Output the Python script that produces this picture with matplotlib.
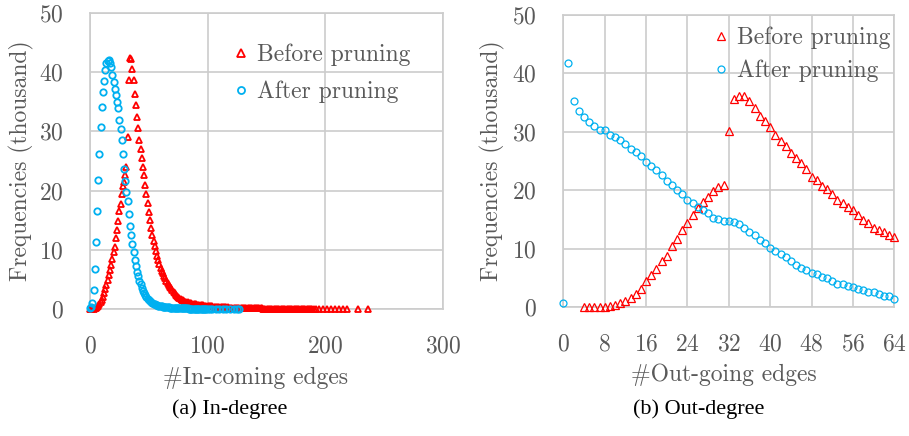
import numpy as np
import matplotlib
matplotlib.use("Agg")
import matplotlib.pyplot as plt

# ---------------- data ----------------
# (a) In-degree distribution (frequencies in thousand)
in_before_x_dense = list(range(0, 191))
in_before_y_dense = [
    0.0, 0.0, 0.0, 0.05, 0.1, 0.2, 0.35, 0.5, 0.8, 1.1,
    1.5, 2.1, 2.7, 3.3, 4.1, 4.9, 5.7, 6.6, 7.5, 8.4,
    9.6, 10.4, 12.0, 13.4, 14.8, 16.6, 17.8, 19.5, 20.7, 21.5,
    22.6, 24.0, 29.1, 38.7, 42.4, 42.2, 40.5, 38.6, 36.4, 34.5,
    32.5, 30.5, 28.5, 27.0, 25.5, 24.0, 22.6, 21.0, 19.4, 17.9,
    16.4, 15.0, 13.7, 12.5, 11.5, 10.6, 9.8, 9.0, 8.3, 7.6,
    7.0, 6.5, 6.1, 5.6, 5.2, 4.8, 4.4, 4.1, 3.8, 3.5,
    3.2, 2.9, 2.65, 2.4, 2.2, 2.0, 1.85, 1.7, 1.55, 1.45,
    1.35, 1.25, 1.18, 1.1, 1.04, 0.99, 0.94, 0.9, 0.86, 0.82,
    0.79, 0.76, 0.73, 0.7, 0.67, 0.64, 0.61, 0.58, 0.56, 0.54,
    0.52, 0.50, 0.48, 0.46, 0.44, 0.42, 0.40, 0.38, 0.37, 0.35,
    0.34, 0.32, 0.31, 0.30, 0.29, 0.28, 0.27, 0.26, 0.25, 0.24,
    0.23, 0.22, 0.21, 0.21, 0.20, 0.19, 0.18, 0.18, 0.17, 0.16,
    0.16, 0.15, 0.15, 0.14, 0.14, 0.13, 0.13, 0.12, 0.12, 0.11,
    0.11, 0.10, 0.10, 0.10, 0.09, 0.09, 0.09, 0.08, 0.08, 0.08,
    0.07, 0.07, 0.07, 0.07, 0.06, 0.06, 0.06, 0.06, 0.05, 0.05,
    0.05, 0.05, 0.05, 0.04, 0.04, 0.04, 0.04, 0.04, 0.04, 0.03,
    0.03, 0.03, 0.03, 0.03, 0.03, 0.03, 0.03, 0.02, 0.02, 0.02,
    0.02, 0.02, 0.02, 0.02, 0.02, 0.02, 0.02, 0.02, 0.01, 0.01,
    0.01,
]
in_before_x_tail = [192, 195, 198, 201, 205, 208, 212, 215, 218, 228, 236]
in_before_y_tail = [0.01, 0.01, 0.01, 0.01, 0.01, 0.01, 0.01, 0.01, 0.01, 0.01, 0.01]

in_after_x_dense = list(range(0, 101))
in_after_y_dense = [
    0.1, 0.4, 1.0, 3.2, 6.7, 11.4, 16.6, 21.8, 26.2, 30.7,
    34.2, 36.7, 38.5, 40.4, 41.5, 41.9, 42.0, 41.6, 40.8, 39.5,
    38.3, 37.2, 36.1, 35.0, 34.0, 32.0, 30.4, 28.6, 26.1, 23.6,
    21.7, 19.7, 18.2, 16.1, 14.1, 12.5, 11.0, 9.6, 8.3, 7.2,
    6.3, 5.5, 4.8, 4.2, 3.6, 3.1, 2.7, 2.3, 2.0, 1.7,
    1.5, 1.3, 1.15, 1.0, 0.9, 0.8, 0.72, 0.65, 0.58, 0.52,
    0.47, 0.43, 0.39, 0.36, 0.33, 0.30, 0.28, 0.26, 0.24, 0.22,
    0.20, 0.19, 0.18, 0.17, 0.16, 0.15, 0.14, 0.13, 0.12, 0.11,
    0.10, 0.10, 0.09, 0.09, 0.08, 0.08, 0.07, 0.07, 0.06, 0.06,
    0.06, 0.05, 0.05, 0.05, 0.04, 0.04, 0.04, 0.04, 0.03, 0.03,
    0.03,
]
in_after_x_tail = [102, 104, 107, 110, 113, 116, 119, 122, 125, 127]
in_after_y_tail = [0.03, 0.03, 0.02, 0.02, 0.02, 0.02, 0.02, 0.02, 0.02, 0.02]

# (b) Out-degree distribution (frequencies in thousand)
out_before_x = list(range(4, 65))
out_before_y = [
    0.0, 0.0, 0.0, 0.0, 0.0, 0.2, 0.4, 0.7, 1.0, 1.5,
    2.2, 3.1, 4.4, 5.4, 6.5, 7.8, 8.8, 10.4, 11.6, 13.1,
    14.4, 15.8, 16.9, 17.9, 18.8, 19.9, 20.6, 20.9, 30.1, 35.6,
    36.1, 36.1, 35.2, 34.0, 32.7, 31.9, 30.8, 29.5, 28.4, 27.5,
    26.3, 25.5, 24.6, 23.7, 22.3, 21.8, 20.8, 20.2, 19.3, 18.4,
    17.8, 17.2, 16.6, 15.8, 14.9, 14.3, 13.6, 13.2, 12.8, 12.3,
    12.0,
]
out_after_x = list(range(0, 65))
out_after_y = [
    0.6, 41.8, 35.2, 33.6, 32.6, 31.6, 31.0, 30.3, 30.3, 29.5,
    29.1, 28.6, 27.9, 27.1, 26.5, 25.8, 24.8, 24.2, 23.5, 22.6,
    21.5, 20.9, 20.1, 19.3, 18.4, 17.8, 17.1, 16.6, 16.1, 15.3,
    15.1, 14.8, 14.8, 14.5, 14.2, 13.5, 12.8, 12.3, 11.5, 10.9,
    10.1, 9.6, 9.1, 8.5, 7.9, 7.2, 6.7, 6.4, 5.9, 5.7,
    5.1, 5.0, 4.5, 4.0, 4.0, 3.6, 3.4, 3.1, 2.9, 2.6,
    2.5, 2.3, 1.9, 1.8, 1.4,
]

in_xticks = [0, 100, 200, 300]
out_xticks = [0, 8, 16, 24, 32, 40, 48, 56, 64]
yticks = [0, 10, 20, 30, 40, 50]

labels = ["Before pruning", "After pruning"]
xlabels = ["#In-coming edges", "#Out-going edges"]
ylabel = "Frequencies (thousand)"
captions = ["(a) In-degree", "(b) Out-degree"]

# ---------------- style ----------------
RED = "#FF0000"
BLUE = "#00B0F0"
GREY_TXT = "#595959"
GRID = "#CCCCCC"

plt.rcParams["font.family"] = ["cmr10", "DejaVu Serif"]
plt.rcParams["axes.formatter.use_mathtext"] = True
plt.rcParams["mathtext.fontset"] = "cm"
FS = 17

W, H = 909, 436
fig = plt.figure(figsize=(W / 100, H / 100), dpi=100)


def px_axes(l, t, r, b):
    return fig.add_axes([l / W, 1 - b / H, (r - l) / W, (b - t) / H])


ax1 = px_axes(90, 13, 443, 309)
ax2 = px_axes(563.3, 15, 894.3, 307)

for ax in (ax1, ax2):
    ax.set_ylim(0, 50)
    ax.set_yticks(yticks)
    ax.grid(True, color=GRID, linewidth=1.2)
    ax.set_axisbelow(True)
    for s in ax.spines.values():
        s.set_color(GRID)
        s.set_linewidth(1.2)
    ax.tick_params(length=0, labelsize=FS, labelcolor=GREY_TXT)
    ax.tick_params(axis="x", pad=19)
    ax.tick_params(axis="y", pad=19)
    ax.set_ylabel(ylabel, fontsize=FS, color=GREY_TXT)

ax1.yaxis.set_label_coords(-0.16, 0.5)
ax2.yaxis.set_label_coords(-0.175, 0.5)

# ---- (a)
ax1.set_xlim(0, 300)
ax1.set_xticks(in_xticks)
ax1.plot(in_before_x_dense + in_before_x_tail, in_before_y_dense + in_before_y_tail,
         linestyle="none", marker="^", markersize=4.6, markerfacecolor="none",
         markeredgecolor=RED, markeredgewidth=1.3, label=labels[0], clip_on=False, zorder=3)
ax1.plot(in_after_x_dense + in_after_x_tail, in_after_y_dense + in_after_y_tail,
         linestyle="none", marker="o", markersize=4.6, markerfacecolor="none",
         markeredgecolor=BLUE, markeredgewidth=1.3, label=labels[1], clip_on=False, zorder=4)
ax1.set_xlabel(xlabels[0], fontsize=FS, color=GREY_TXT)
ax1.xaxis.set_label_coords(0.47, -0.195)
leg1 = ax1.legend(loc="upper left", bbox_to_anchor=(0.407, 0.896), frameon=False,
                  fontsize=FS, labelcolor=GREY_TXT, handlelength=0.6, handletextpad=0.38,
                  borderpad=0, borderaxespad=0, labelspacing=0.62, markerscale=1.1)

# ---- (b)
ax2.set_xlim(0, 64)
ax2.set_xticks(out_xticks)
ax2.plot(out_before_x, out_before_y, linestyle="none", marker="^", markersize=5.2,
         markerfacecolor="none", markeredgecolor=RED, markeredgewidth=0.9,
         label=labels[0], clip_on=False, zorder=3)
ax2.plot(out_after_x, out_after_y, linestyle="none", marker="o", markersize=5.0,
         markerfacecolor="none", markeredgecolor=BLUE, markeredgewidth=0.9,
         label=labels[1], clip_on=False, zorder=4)
ax2.set_xlabel(xlabels[1], fontsize=FS, color=GREY_TXT)
ax2.xaxis.set_label_coords(0.486, -0.195)
leg2 = ax2.legend(loc="upper left", bbox_to_anchor=(0.454, 0.959), frameon=False,
                  fontsize=FS, labelcolor=GREY_TXT, handlelength=0.6, handletextpad=0.38,
                  borderpad=0, borderaxespad=0, labelspacing=0.42)

fig.text(230 / W, 1 - 409 / H, captions[0], family="Liberation Serif", fontsize=16,
         color="black", ha="center", va="center")
fig.text(699 / W, 1 - 409 / H, captions[1], family="Liberation Serif", fontsize=16,
         color="black", ha="center", va="center")

fig.savefig("out.png", dpi=100)
